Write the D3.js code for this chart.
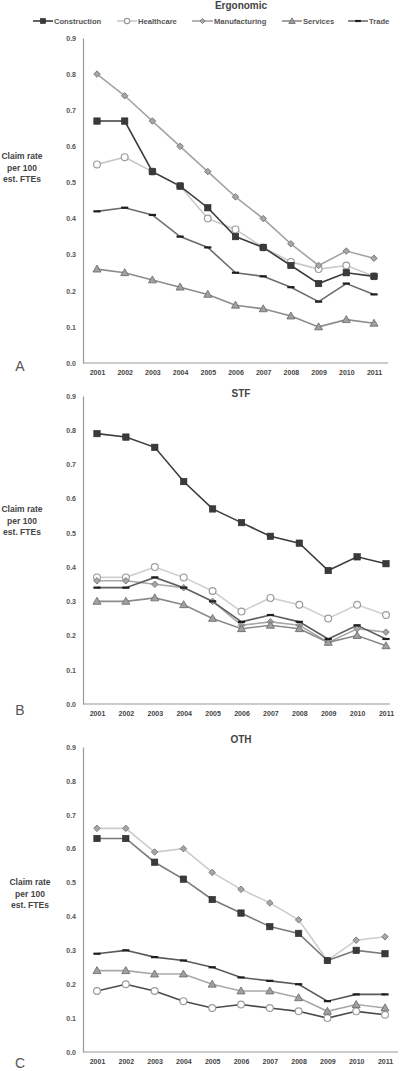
<!DOCTYPE html>
<html><head><meta charset="utf-8">
<script src="https://cdn.jsdelivr.net/npm/d3@7"></script>
<style>body{margin:0;background:#fff}svg{display:block}text{font-family:"Liberation Sans",Arial,sans-serif}</style>
</head><body>
<svg id="c" width="400" height="1071"></svg>
<script>
const years = ["2001","2002","2003","2004","2005","2006","2007","2008","2009","2010","2011"];
const seriesNames = ["Construction","Healthcare","Manufacturing","Services","Trade"];
const yTicks = [0,0.1,0.2,0.3,0.4,0.5,0.6,0.7,0.8,0.9];
const panelTitles = ["Ergonomic","STF","OTH"];
const panelLetters = ["A","B","C"];
const axisLabelLines = ["Claim rate","per 100","est. FTEs"];

// Ergonomic
const ergConstruction = [0.67,0.67,0.53,0.49,0.43,0.35,0.32,0.27,0.22,0.25,0.24];
const ergHealthcare   = [0.55,0.57,0.53,0.49,0.40,0.37,0.32,0.28,0.26,0.27,0.24];
const ergManufacturing= [0.80,0.74,0.67,0.60,0.53,0.46,0.40,0.33,0.27,0.31,0.29];
const ergServices     = [0.26,0.25,0.23,0.21,0.19,0.16,0.15,0.13,0.10,0.12,0.11];
const ergTrade        = [0.42,0.43,0.41,0.35,0.32,0.25,0.24,0.21,0.17,0.22,0.19];
// STF
const stfConstruction = [0.79,0.78,0.75,0.65,0.57,0.53,0.49,0.47,0.39,0.43,0.41];
const stfHealthcare   = [0.37,0.37,0.40,0.37,0.33,0.27,0.31,0.29,0.25,0.29,0.26];
const stfManufacturing= [0.36,0.36,0.35,0.34,0.30,0.23,0.24,0.23,0.18,0.22,0.21];
const stfServices     = [0.30,0.30,0.31,0.29,0.25,0.22,0.23,0.22,0.18,0.20,0.17];
const stfTrade        = [0.34,0.34,0.37,0.34,0.30,0.24,0.26,0.24,0.19,0.23,0.19];
// OTH
const othConstruction = [0.63,0.63,0.56,0.51,0.45,0.41,0.37,0.35,0.27,0.30,0.29];
const othHealthcare   = [0.18,0.20,0.18,0.15,0.13,0.14,0.13,0.12,0.10,0.12,0.11];
const othManufacturing= [0.66,0.66,0.59,0.60,0.53,0.48,0.44,0.39,0.27,0.33,0.34];
const othServices     = [0.24,0.24,0.23,0.23,0.20,0.18,0.18,0.16,0.12,0.14,0.13];
const othTrade        = [0.29,0.30,0.28,0.27,0.25,0.22,0.21,0.20,0.15,0.17,0.17];

const panelData = [
  [ergConstruction,ergHealthcare,ergManufacturing,ergServices,ergTrade],
  [stfConstruction,stfHealthcare,stfManufacturing,stfServices,stfTrade],
  [othConstruction,othHealthcare,othManufacturing,othServices,othTrade]
];

// layout (presentation only)
const layout = [
  {top:38, bottom:363, x0:97, x1:374, axisEnd:388, titleY:9, labelCx:22, labelY:159, letterY:371},
  {top:396, bottom:704, x0:97, x1:386, axisEnd:390, titleY:397, labelCx:22, labelY:512, letterY:715},
  {top:747, bottom:1052, x0:97, x1:385, axisEnd:398, titleY:743, labelCx:30, labelY:885, letterY:1068}
];
// line styles per panel, order: Construction, Healthcare, Manufacturing, Services, Trade
const lineColors = [
  ["#3c3c3c","#cacaca","#a4a4a4","#8c8c8c","#6c6c6c"],
  ["#3c3c3c","#cfcfcf","#a8a8a8","#8a8a8a","#5e5e5e"],
  ["#7a7a7a","#4a4a4a","#cccccc","#a8a8a8","#5a5a5a"]
];
const markerKinds = ["square","circle","diamond","triangle","dash"];

const svg = d3.select("#c");
const axisX = 83;

function drawMarker(g, kind, x, y, scale){
  const s = scale||1;
  if(kind==="square"){
    g.append("rect").attr("x",x-3.2*s).attr("y",y-3.2*s).attr("width",6.4*s).attr("height",6.4*s)
      .attr("fill","#3a3a3a").attr("stroke","#2a2a2a").attr("stroke-width",0.6);
  } else if(kind==="circle"){
    g.append("circle").attr("cx",x).attr("cy",y).attr("r",3.4*s)
      .attr("fill","#fff").attr("stroke","#9c9c9c").attr("stroke-width",1.2);
  } else if(kind==="diamond"){
    g.append("rect").attr("x",-2.3*s).attr("y",-2.3*s).attr("width",4.6*s).attr("height",4.6*s)
      .attr("transform",`translate(${x},${y}) rotate(45)`)
      .attr("fill","#a6a6a6").attr("stroke","#7a7a7a").attr("stroke-width",0.9);
  } else if(kind==="triangle"){
    g.append("path").attr("d",d3.symbol(d3.symbolTriangle, 28*s*s)()).attr("transform",`translate(${x},${y+0.6})`)
      .attr("fill","#a0a0a0").attr("stroke","#666").attr("stroke-width",0.8);
  } else {
    g.append("rect").attr("x",x-3.6*s).attr("y",y-1.1).attr("width",7.2*s).attr("height",2.2)
      .attr("fill","#1e1e1e");
  }
}

panelData.forEach((series, pi) => {
  const L = layout[pi];
  const g = svg.append("g");
  const x = d3.scalePoint().domain(years).range([L.x0, L.x1]);
  const y = d3.scaleLinear().domain([0,0.9]).range([L.bottom, L.top]);

  const yAxis = d3.axisLeft(y).tickValues(yTicks).tickFormat(d3.format(".1f")).tickSize(0).tickPadding(7);
  const ya = g.append("g").attr("transform",`translate(${axisX},0)`).call(yAxis);
  ya.select(".domain").attr("stroke","#9a9a9a").attr("stroke-width",1.2);
  ya.selectAll("text").attr("font-size",7).attr("font-weight","bold").attr("fill","#555");

  g.append("line").attr("x1",axisX).attr("x2",L.axisEnd).attr("y1",L.bottom).attr("y2",L.bottom)
    .attr("stroke","#9a9a9a").attr("stroke-width",1.2);
  const xAxis = d3.axisBottom(x).tickSize(0).tickPadding(7);
  const xa = g.append("g").attr("transform",`translate(0,${L.bottom})`).call(xAxis);
  xa.select(".domain").remove();
  xa.selectAll("text").attr("font-size",7).attr("font-weight","bold").attr("fill","#444");

  g.append("text").attr("x",241).attr("y",L.titleY).attr("text-anchor","middle")
    .attr("font-size",10).attr("font-weight","bold").attr("fill","#444").text(panelTitles[pi]);

  axisLabelLines.forEach((t,i)=>{
    g.append("text").attr("x",L.labelCx).attr("y",L.labelY+i*11.5).attr("text-anchor","middle")
      .attr("font-size",8.5).attr("font-weight","bold").attr("fill","#444").text(t);
  });
  g.append("text").attr("x",20).attr("y",L.letterY).attr("text-anchor","middle")
    .attr("font-size",14).attr("fill","#555").text(panelLetters[pi]);

  const order = [1,2,3,4,0];
  const line = d3.line().x((d,i)=>x(years[i])).y(d=>y(d));
  order.forEach(si=>{
    g.append("path").datum(series[si]).attr("d",line).attr("fill","none")
      .attr("stroke",lineColors[pi][si]).attr("stroke-width",1.6);
  });
  order.forEach(si=>{
    const mg = g.append("g");
    series[si].forEach((v,i)=>drawMarker(mg, markerKinds[si], x(years[i]), y(v)));
  });
});

const legendItems = [
  {x0:33, x1:53},{x0:117,x1:137},{x0:192,x1:213},{x0:282,x1:302},{x0:348,x1:368}
];
const lg = svg.append("g");
seriesNames.forEach((n,i)=>{
  const it = legendItems[i];
  lg.append("line").attr("x1",it.x0).attr("x2",it.x1).attr("y1",21).attr("y2",21)
    .attr("stroke",lineColors[0][i]).attr("stroke-width",1.6);
  drawMarker(lg, markerKinds[i], (it.x0+it.x1)/2, 21, 0.8);
  lg.append("text").attr("x",it.x1+1).attr("y",24).attr("font-size",7.6).attr("font-weight","bold")
    .attr("fill","#555").text(n);
});
</script>
</body></html>
